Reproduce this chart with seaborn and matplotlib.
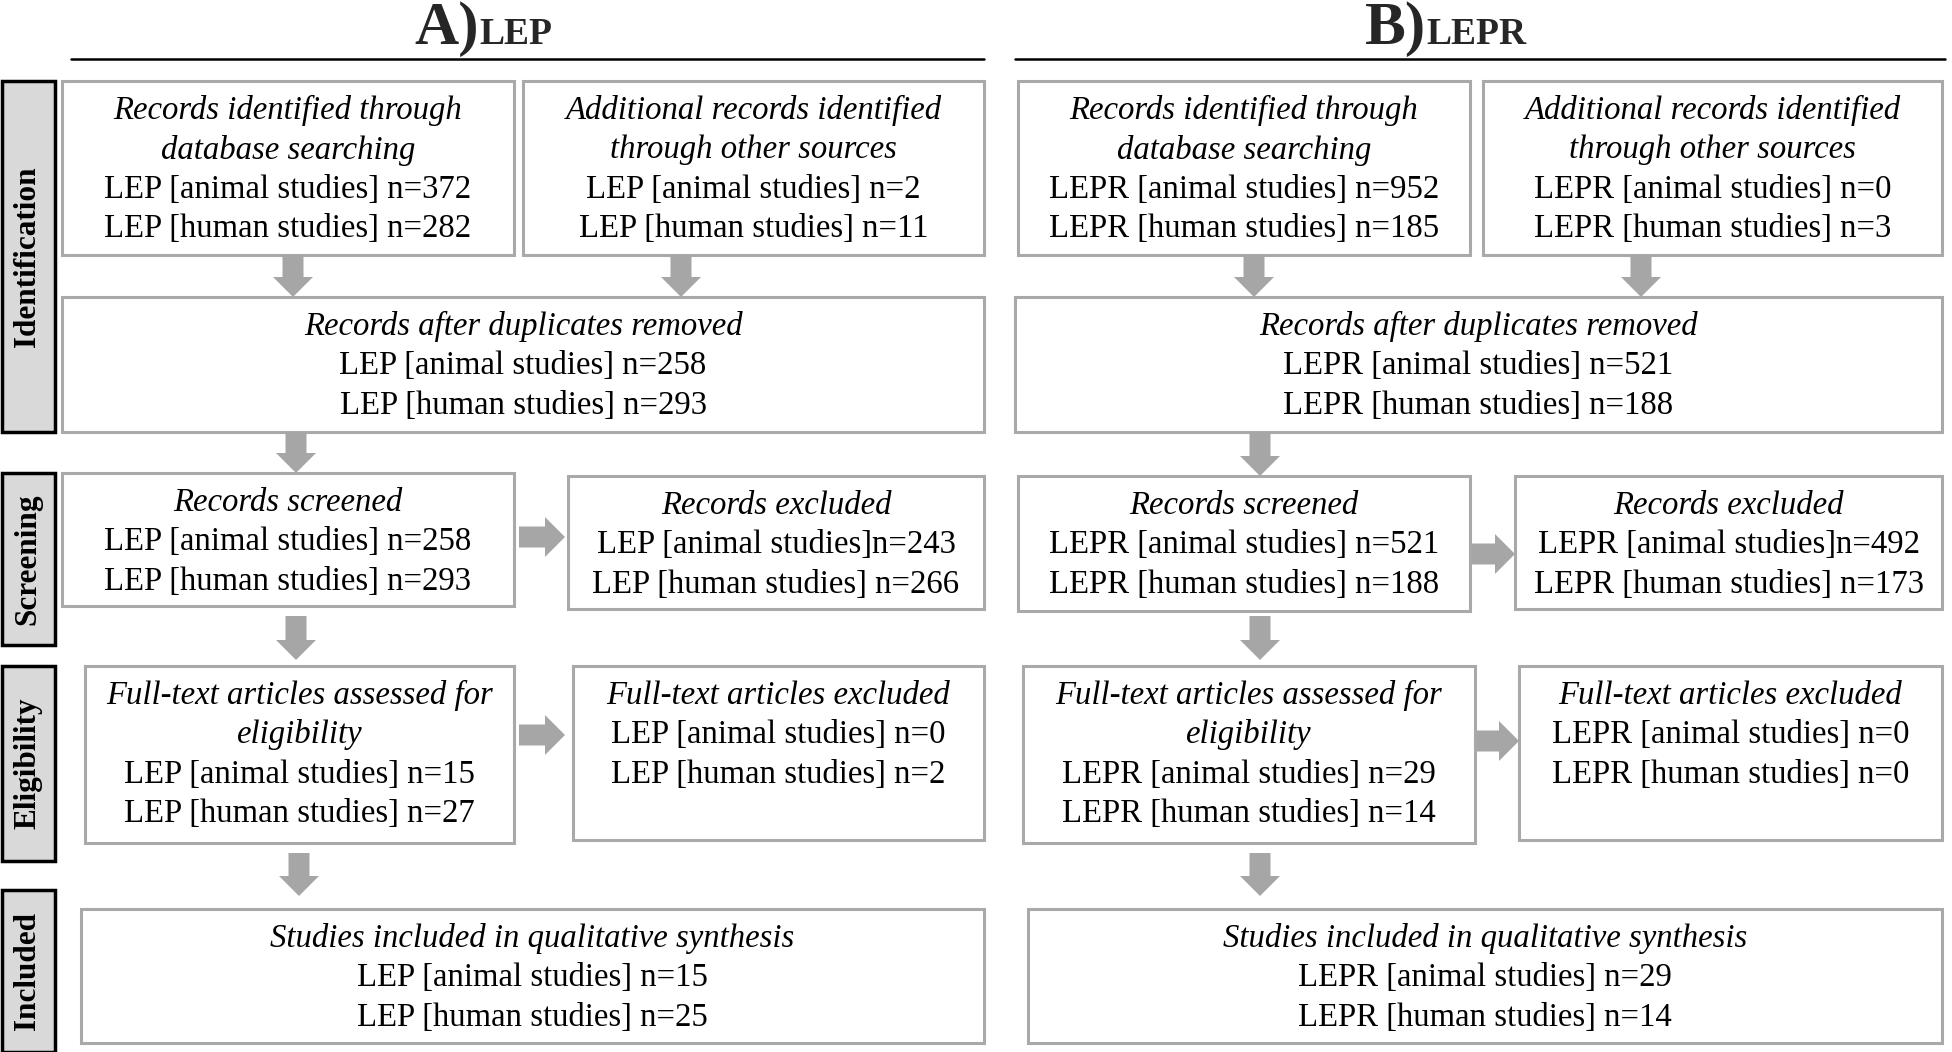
import matplotlib
matplotlib.use("Agg")
import matplotlib.pyplot as plt
import seaborn as sns
from matplotlib.patches import Rectangle

sns.set_theme(style="white")
plt.rcParams['font.family'] = ['Liberation Serif', 'DejaVu Serif']

# --- data -------------------------------------------------------------
stages = ["Identification", "Screening", "Eligibility", "Included"]
panel_letters = ["A)", "B)"]
genes = ["LEP", "LEPR"]

box_titles = [
    ["Records identified through", "database searching"],
    ["Additional records identified", "through other sources"],
    ["Records after duplicates removed"],
    ["Records screened"],
    ["Records excluded"],
    ["Full-text articles assessed for", "eligibility"],
    ["Full-text articles excluded"],
    ["Studies included in qualitative synthesis"],
]
# the excluded box has no space before n= on the animal line
animal_sep = [" ", " ", " ", " ", "", " ", " ", " "]

lep_animal = [372, 2, 258, 258, 243, 15, 0, 15]
lep_human = [282, 11, 293, 293, 266, 27, 2, 25]
lepr_animal = [952, 0, 521, 521, 492, 29, 0, 29]
lepr_human = [185, 3, 188, 188, 173, 14, 0, 14]
counts = {"LEP": (lep_animal, lep_human), "LEPR": (lepr_animal, lepr_human)}

# --- layout (pixels, full size) --------------------------------------
W, H = 1952, 1052
boxes = {
    "LEP": [(62, 81, 514, 255), (523, 81, 984, 255), (62, 297, 984, 432),
            (62, 473, 514, 606), (568, 476, 984, 609), (85, 666, 514, 843),
            (573, 666, 984, 840), (81, 909, 984, 1043)],
    "LEPR": [(1018, 81, 1470, 255), (1483, 81, 1942, 255), (1015, 297, 1942, 432),
             (1018, 476, 1470, 611), (1515, 476, 1942, 609), (1023, 666, 1475, 843),
             (1519, 666, 1942, 840), (1028, 909, 1942, 1043)],
}
down_arrows = {
    "LEP": [(293, 255, 297), (681, 255, 297), (296, 432, 473), (296, 616, 660), (299, 853, 896)],
    "LEPR": [(1254, 255, 297), (1641, 255, 297), (1260, 432, 476), (1260, 616, 660), (1260, 853, 896)],
}
right_arrows = {
    "LEP": [(537, 519, 565), (735, 519, 565)],
    "LEPR": [(554, 1472, 1515), (741, 1477, 1519)],
}
stage_boxes = [(81, 432), (473, 645), (666, 861), (890, 1052)]
titles_pos = {"LEP": (479, 71, 984), "LEPR": (1426, 1015, 1945)}

box_edge = "#a9a9a9"
arrow_col = "#a6a6a6"
fs = 23.6
line_gap = 39.5

fig = plt.figure(figsize=(W / 100, H / 100), dpi=100)
ax = fig.add_axes([0, 0, 1, 1])
ax.set_xlim(0, W)
ax.set_ylim(H, 0)
ax.axis("off")

# stage labels on the left
for name, (y0, y1) in zip(stages, stage_boxes):
    ax.add_patch(Rectangle((1.5, y0), 53, y1 - y0, facecolor="#d9d9d9",
                           edgecolor="black", lw=2.5))
    ax.text(28, (y0 + y1) / 2, name, rotation=90, ha="center", va="center",
            fontsize=22.5, fontweight="bold", color="black")

for letter, gene in zip(panel_letters, genes):
    xs, lx0, lx1 = titles_pos[gene]
    ax.text(xs, 44, letter, ha="right", va="baseline", fontsize=44,
            fontweight="bold")
    ax.text(xs, 44, gene, ha="left", va="baseline", fontsize=27,
            fontweight="bold")
    ax.plot([lx0, lx1], [58.5, 58.5], color="black", lw=1.8)

    animal, human = counts[gene]
    for i, (x0, y0, x1, y1) in enumerate(boxes[gene]):
        ax.add_patch(Rectangle((x0, y0), x1 - x0, y1 - y0, facecolor="white",
                               edgecolor=box_edge, lw=2.2))
        cx = (x0 + x1) / 2
        lines = [(t, "italic") for t in box_titles[i]]
        lines.append((f"{gene} [animal studies]{animal_sep[i]}n={animal[i]}", "normal"))
        lines.append((f"{gene} [human studies] n={human[i]}", "normal"))
        for k, (txt, style) in enumerate(lines):
            ax.text(cx, y0 + 29.5 + k * line_gap, txt, ha="center", va="center",
                    fontsize=fs, fontstyle=style, color="black")

    for x, ya, yb in down_arrows[gene]:
        ax.arrow(x, ya, 0, yb - ya, width=21, head_width=40, head_length=20,
                 length_includes_head=True, color=arrow_col, lw=0)
    for y, xa, xb in right_arrows[gene]:
        ax.arrow(xa, y, xb - xa, 0, width=21, head_width=40, head_length=20,
                 length_includes_head=True, color=arrow_col, lw=0)

fig.savefig("out.png", dpi=100)
